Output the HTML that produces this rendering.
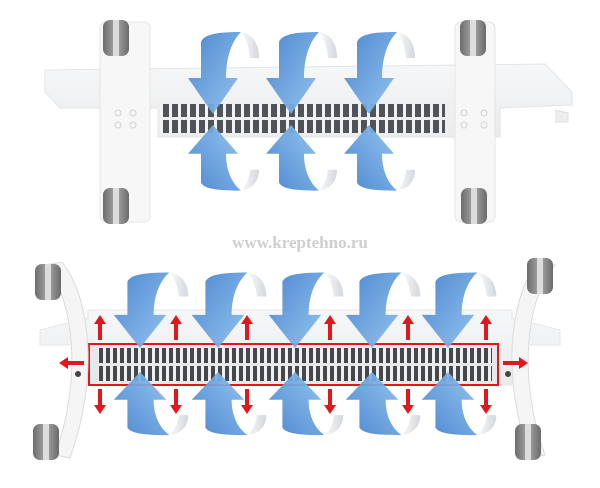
<!DOCTYPE html>
<html><head><meta charset="utf-8"><style>
html,body{margin:0;padding:0;background:#fff;width:600px;height:488px;overflow:hidden}
</style></head><body>
<svg width="600" height="488" viewBox="0 0 600 488" xmlns="http://www.w3.org/2000/svg">
<defs>
<linearGradient id="bl" x1="0" y1="0" x2="1" y2="1">
<stop offset="0" stop-color="#3f7fcc"/><stop offset="1" stop-color="#8ec0ee"/></linearGradient>
<linearGradient id="fl" x1="0" y1="0" x2="1" y2="0">
<stop offset="0" stop-color="#fafafa"/><stop offset="1" stop-color="#d4d8dc"/></linearGradient>
<linearGradient id="body" x1="0" y1="0" x2="0" y2="1">
<stop offset="0" stop-color="#f6f7f8"/><stop offset="1" stop-color="#e9ebed"/></linearGradient>
<linearGradient id="wh" x1="0" y1="0" x2="1" y2="0">
<stop offset="0" stop-color="#6d6d6d"/><stop offset=".5" stop-color="#a8a8a8"/><stop offset="1" stop-color="#6a6a6a"/></linearGradient>
<pattern id="gr" x="0" y="0" width="9" height="40" patternUnits="userSpaceOnUse">
<rect width="9" height="40" fill="#f2f2f2"/><rect x="1" y="0" width="6" height="40" fill="#50545a"/></pattern>
<pattern id="gr2" x="0" y="0" width="7" height="40" patternUnits="userSpaceOnUse">
<rect width="7" height="40" fill="#f0f0f0"/><rect x="1" y="0" width="4" height="40" fill="#44474c"/></pattern>
<g id="arr">
<path d="M28,-82 C40,-80 46,-70 46,-56 L37,-56 C36,-68 33,-76 28,-82 Z" fill="url(#fl)"/>
<path d="M0,0 L-25,-36 L-12,-36 L-12,-72 C-9,-80 5,-82 28,-82 C18,-72 13,-55 13,-36 L25,-36 Z" fill="url(#bl)" opacity=".93"/>
</g>
<g id="ra"><path d="M-2,0 L-2,-16 L-6,-16 L0,-25 L6,-16 L2,-16 L2,0 Z" fill="#e3171b"/></g>
<g id="wheel"><rect x="-13" y="-18" width="26" height="36" rx="7" fill="url(#wh)"/><rect x="-3" y="-18" width="6" height="36" fill="#ddd"/></g>
</defs>

<!-- TOP HEATER -->
<path d="M45,70 L545,64 L572,92 L572,105 L500,108 L500,137 L158,137 L158,108 L60,108 L45,92 Z" fill="url(#body)" stroke="#e2e4e6"/>
<rect x="158" y="103" width="290" height="32" fill="#eceeef"/>
<rect x="160" y="104" width="285" height="13" fill="url(#gr)"/>
<rect x="160" y="120" width="285" height="13" fill="url(#gr)"/>
<rect x="100" y="22" width="50" height="200" rx="6" fill="#f7f7f7" stroke="#e4e4e4"/>
<rect x="455" y="22" width="40" height="200" rx="6" fill="#f7f7f7" stroke="#e4e4e4"/>
<use href="#wheel" x="116" y="38"/><use href="#wheel" x="116" y="206"/>
<use href="#wheel" x="473" y="38"/><use href="#wheel" x="474" y="206"/>
<g fill="none" stroke="#cfd2d5"><circle cx="118" cy="113" r="3"/><circle cx="133" cy="113" r="3"/><circle cx="118" cy="125" r="3"/><circle cx="133" cy="125" r="3"/>
<circle cx="464" cy="113" r="3"/><circle cx="484" cy="113" r="3"/><circle cx="464" cy="125" r="3"/><circle cx="484" cy="125" r="3"/></g>
<path d="M555,110 L568,113 L568,122 L555,122" fill="#eee" stroke="#ddd"/>
<use href="#arr" transform="translate(213,114)"/>
<use href="#arr" transform="translate(291,114)"/>
<use href="#arr" transform="translate(369,114)"/>
<use href="#arr" transform="translate(213,125) scale(1,-0.8)"/>
<use href="#arr" transform="translate(291,125) scale(1,-0.8)"/>
<use href="#arr" transform="translate(369,125) scale(1,-0.8)"/>

<text x="300" y="248" text-anchor="middle" font-family="Liberation Serif, serif" font-weight="bold" font-size="17" fill="#cfcfcf">www.kreptehno.ru</text>

<!-- BOTTOM HEATER -->
<path d="M40,330 L88,318 L88,310 L512,310 L512,318 L560,330 L560,345 L512,345 L512,385 L88,385 L88,345 L40,345 Z" fill="url(#body)" stroke="#e4e6e8"/>
<rect x="90" y="344" width="408" height="40" fill="#e6e8ea"/>
<rect x="98" y="348" width="394" height="15" fill="url(#gr2)"/>
<rect x="98" y="366" width="394" height="15" fill="url(#gr2)"/>
<rect x="89" y="344" width="409" height="41" fill="none" stroke="#e3171b" stroke-width="2"/>
<path d="M45,265 C75,300 82,380 55,455 L70,458 C98,380 92,300 62,262 Z" fill="#f5f5f5" stroke="#dcdcdc"/>
<path d="M555,265 C525,300 518,380 545,455 L530,458 C502,380 508,300 538,262 Z" fill="#f5f5f5" stroke="#dcdcdc"/>
<use href="#wheel" x="48" y="282"/><use href="#wheel" x="46" y="442"/>
<use href="#wheel" x="540" y="276"/><use href="#wheel" x="528" y="442"/>
<circle cx="78" cy="374" r="3" fill="#444"/><circle cx="508" cy="374" r="3" fill="#444"/>
<use href="#arr" transform="translate(140,348) scale(1.05,0.92)"/>
<use href="#arr" transform="translate(218,348) scale(1.05,0.92)"/>
<use href="#arr" transform="translate(295,348) scale(1.05,0.92)"/>
<use href="#arr" transform="translate(372,348) scale(1.05,0.92)"/>
<use href="#arr" transform="translate(448,348) scale(1.05,0.92)"/>
<use href="#arr" transform="translate(140,372) scale(1.05,-0.77)"/>
<use href="#arr" transform="translate(218,372) scale(1.05,-0.77)"/>
<use href="#arr" transform="translate(295,372) scale(1.05,-0.77)"/>
<use href="#arr" transform="translate(372,372) scale(1.05,-0.77)"/>
<use href="#arr" transform="translate(448,372) scale(1.05,-0.77)"/>
<g>
<use href="#ra" x="100" y="340"/><use href="#ra" x="176" y="340"/><use href="#ra" x="247" y="340"/><use href="#ra" x="330" y="340"/><use href="#ra" x="408" y="340"/><use href="#ra" x="486" y="340"/>
<use href="#ra" transform="translate(100,389) scale(1,-1)"/><use href="#ra" transform="translate(176,389) scale(1,-1)"/><use href="#ra" transform="translate(247,389) scale(1,-1)"/><use href="#ra" transform="translate(330,389) scale(1,-1)"/><use href="#ra" transform="translate(408,389) scale(1,-1)"/><use href="#ra" transform="translate(486,389) scale(1,-1)"/>
<use href="#ra" transform="translate(84,363) rotate(-90)"/>
<use href="#ra" transform="translate(503,363) rotate(90)"/>
</g>
</svg>
</body></html>
